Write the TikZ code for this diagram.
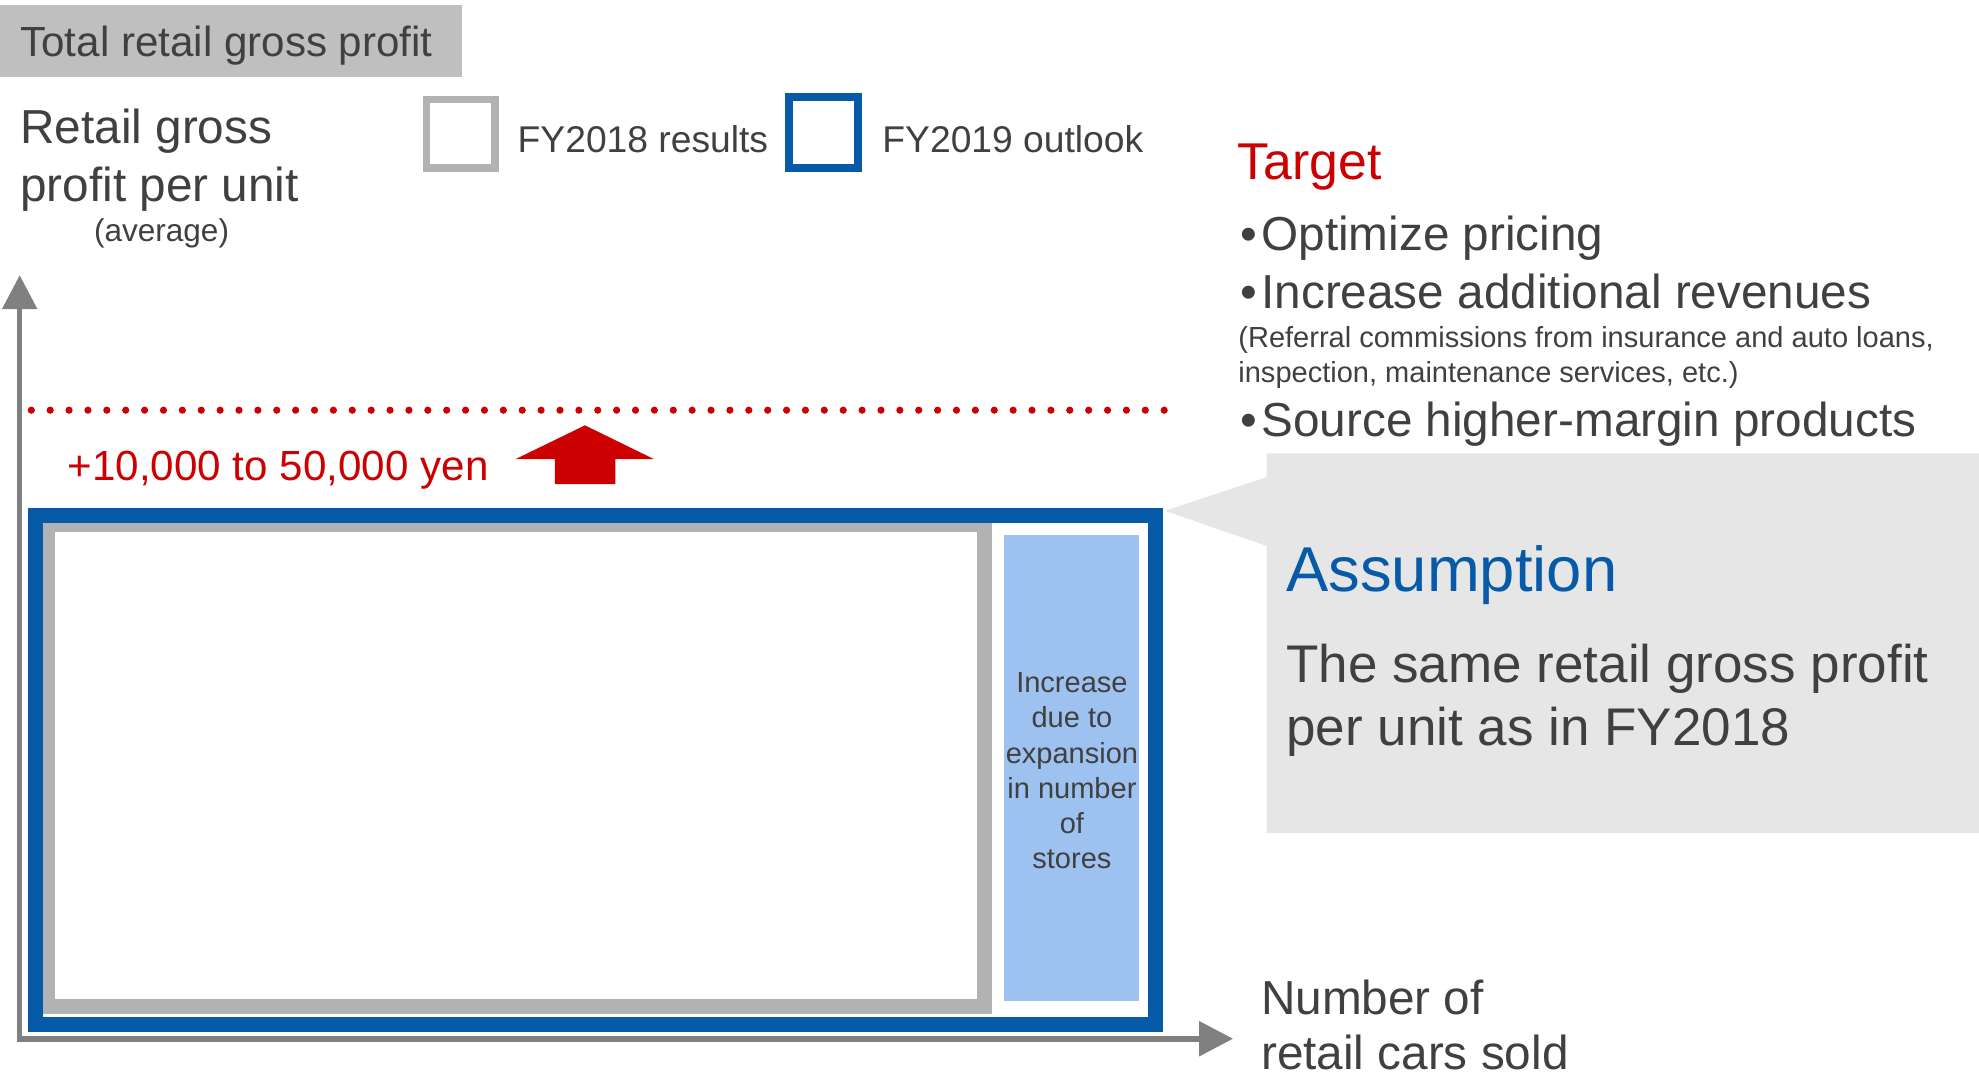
\documentclass[tikz,border=0pt]{standalone}
\usepackage{fontspec}
\setmainfont{Liberation Sans}
\usetikzlibrary{arrows.meta}
\definecolor{ink}{HTML}{404040}
\definecolor{hdrgray}{HTML}{BFBFBF}
\definecolor{prevgray}{HTML}{B2B2B2}
\definecolor{outlookblue}{HTML}{065AA8}
\definecolor{targetred}{HTML}{CC0000}
\definecolor{storeblue}{HTML}{9DC2F0}
\definecolor{notegray}{HTML}{E6E6E6}
\definecolor{axisgray}{HTML}{808080}
\newcommand\bulletmark{•\kern3pt}
\begin{document}
\begin{tikzpicture}[x=1pt,y=-1pt,
  lbl/.style={inner sep=0pt, anchor=base west, text=ink},
  clbl/.style={inner sep=0pt, anchor=base, text=ink},
  fsA/.style={font=\fontsize{23}{28}\selectfont},
  fsB/.style={font=\fontsize{25}{30}\selectfont},
  fsC/.style={font=\fontsize{29.5}{35}\selectfont},
  fsD/.style={font=\fontsize{33.4}{40}\selectfont},
  fsE/.style={font=\fontsize{37.8}{46}\selectfont},
  fsF/.style={font=\fontsize{41}{49}\selectfont},
  fsG/.style={font=\fontsize{42}{50}\selectfont},
  fsH/.style={font=\fontsize{50.2}{60}\selectfont},
  axis/.style={draw=axisgray, line width=4.4pt, line join=miter,
    arrows={Triangle[length=27pt,width=27pt]-Triangle[length=27pt,width=27pt]}},
]
\useasboundingbox (0,0) rectangle (1568,853);

% header
\fill[hdrgray] (0,4) rectangle (366,60.8);
\node[lbl, fsD] (header) at (15.9,44.9) {Total retail gross profit};

% vertical axis title
\node[lbl, fsE] (ytitle1) at (15.9,114) {Retail gross};
\node[lbl, fsE] (ytitle2) at (15.9,159.5) {profit per unit};
\node[lbl, fsB] (ytitle3) at (74.3,191.5) {(average)};

% legend
\draw[prevgray, line width=5.8pt] (337.9,78.7) rectangle (392.1,133.1);
\node[lbl, fsC] (legprev) at (410,120.5) {FY2018 results};
\draw[outlookblue, line width=6.2pt] (625.3,77.1) rectangle (679.7,133);
\node[lbl, fsC] (legnext) at (699,120.5) {FY2019 outlook};

% axes
\coordinate (origin) at (15.6,823);
\coordinate (ytip) at (15.6,218);
\coordinate (xtip) at (977,823);
\draw[axis] (ytip) -- (origin) -- (xtip);
\node[lbl, fsE] (xtitle1) at (999,803.5) {Number of};
\node[lbl, fsE] (xtitle2) at (999,847) {retail cars sold};

% target level
\draw[targetred, line width=5.7pt, line cap=round, dash pattern=on 0pt off 14.96pt]
  (24.8,325) -- (922.6,325);
\node[lbl, fsD, text=targetred] (gain) at (53.5,380.5) {+10,000 to 50,000 yen};
\fill[targetred] (463.5,337) -- (518,363.7) -- (487.5,363.7) -- (487.5,383.5)
  -- (439.7,383.5) -- (439.7,363.7) -- (408.6,363.7) -- cycle;

% FY2019 outlook area
\draw[outlookblue, line width=12.2pt] (28.1,408.4) rectangle (915.6,811.6);
% FY2018 results area
\fill[prevgray] (34.3,414.7) rectangle (786.3,803.5);
\fill[white] (43.2,421.3) rectangle (774.4,791.8);
% store expansion
\fill[storeblue] (795.8,423.6) rectangle (902.7,793.2);
\node[clbl, fsA] (st1) at (849.3,548.9) {Increase};
\node[clbl, fsA] (st2) at (849.3,576.8) {due to};
\node[clbl, fsA] (st3) at (849.3,604.7) {expansion};
\node[clbl, fsA] (st4) at (849.3,632.6) {in number};
\node[clbl, fsA] (st5) at (849.3,660.5) {of};
\node[clbl, fsA] (st6) at (849.3,688.4) {stores};

% target list
\node[lbl, fsF, text=targetred] (target) at (980.5,142.6) {Target};
\node[lbl, fsE] (t1) at (983,198.5) {\bulletmark Optimize pricing};
\node[lbl, fsE] (t2) at (983,244.5) {\bulletmark Increase additional revenues};
\node[lbl, fsA] (t2a) at (981,275) {(Referral commissions from insurance and auto loans,};
\node[lbl, fsA] (t2b) at (981,303) {inspection, maintenance services, etc.)};
\node[lbl, fsE] (t3) at (983,345.5) {\bulletmark Source higher-margin products};

% assumption callout
\fill[notegray] (1003.5,359.2) -- (1568,359.2) -- (1568,660) -- (1003.5,660)
  -- (1003.5,432.6) -- (923,404.7) -- (1003.5,378) -- cycle;
\node[lbl, fsH, text=outlookblue] (assume) at (1019,468.8) {Assumption};
\node[lbl, fsG] (a1) at (1019,540.5) {The same retail gross profit};
\node[lbl, fsG] (a2) at (1019,590.5) {per unit as in FY2018};
\end{tikzpicture}
\end{document}
